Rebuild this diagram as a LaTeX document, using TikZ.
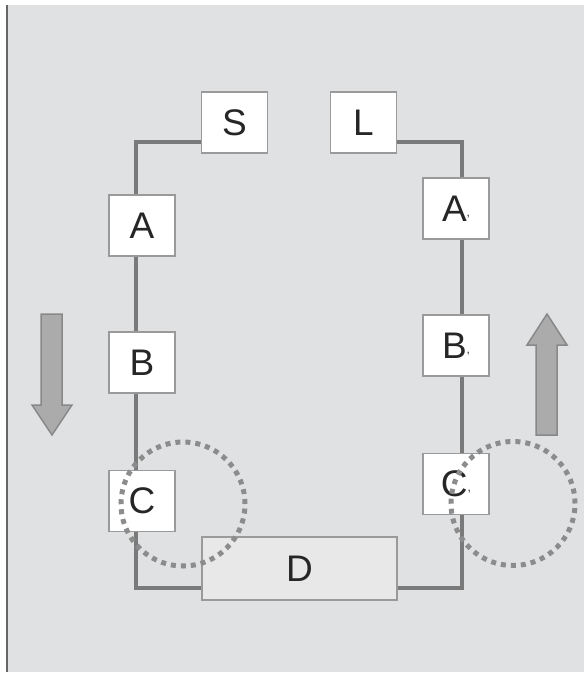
\documentclass[tikz,border=0pt]{standalone}
\usepackage{fontspec}
\setmainfont{Liberation Sans}
\definecolor{bgc}{HTML}{E0E1E3}
\definecolor{wirec}{HTML}{7A7A7A}
\definecolor{boxc}{HTML}{9A9A9A}
\definecolor{dotc}{HTML}{8C8C8C}
\definecolor{arrf}{HTML}{ABABAB}
\definecolor{arrd}{HTML}{888888}
\definecolor{dfill}{HTML}{E8E8E8}
\tikzset{
  blk/.style={draw=boxc, line width=1.6pt, fill=white, minimum width=66pt, minimum height=61pt, inner sep=0pt, font=\fontsize{37}{40}\selectfont, text=black!85},
  wire/.style={draw=wirec, line width=3.8pt},
  dotring/.style={draw=dotc, line width=5pt, dash pattern=on 5pt off 5pt},
  bigarrow/.style={fill=arrf, draw=arrd, line width=1.5pt, line join=miter},
}
\newcommand{\prm}{\raisebox{5pt}{\fontsize{12}{12}\selectfont ,}}
\begin{document}
\begin{tikzpicture}[x=1pt,y=-1pt]
\useasboundingbox (0,0) rectangle (584,674);
\fill[white] (0,0) rectangle (584,674);
\fill[bgc] (7,5) rectangle (584,672);
\draw[black!60, line width=1.6pt] (7,5) -- (7,672);

% corner coordinates of the loop
\coordinate (tl) at (136,142);
\coordinate (tr) at (462,142);
\coordinate (bl) at (136,588);
\coordinate (br) at (462,588);

% blocks
\node[blk] (s) at (234.5,122.5) {S};
\node[blk] (l) at (363.5,122.5) {L};
\node[blk] (a) at (142,225.5) {A};
\node[blk] (b) at (142,362.5) {B};
\node[blk] (c) at (142,501) {C};
\node[blk] (a2) at (456,208.5) {A\prm};
\node[blk] (b2) at (456,345.5) {B\prm};
\node[blk] (c2) at (456,484) {C\prm};
\node[blk, fill=dfill, minimum width=195pt, minimum height=63pt] (d) at (299.5,568.5) {D};

% wires
\draw[wire] (s.west |- tl) -- (tl) -- (tl |- a.north);
\draw[wire] (tl |- a.south) -- (tl |- b.north);
\draw[wire] (tl |- b.south) -- (tl |- c.north);
\draw[wire] (tl |- c.south) -- (bl) -- (d.west |- bl);
\draw[wire] (d.east |- br) -- (br) -- (br |- c2.south);
\draw[wire] (br |- c2.north) -- (br |- b2.south);
\draw[wire] (br |- b2.north) -- (br |- a2.south);
\draw[wire] (br |- a2.north) -- (tr) -- (l.east |- tr);

% dotted rings
\draw[dotring] (183,504) circle (62pt);
\draw[dotring] (513,503.5) circle (62pt);

% direction arrows
\draw[bigarrow] (41,314) -- (62,314) -- (62,405) -- (72,405) -- (52,435) -- (32,405) -- (41,405) -- cycle;
\draw[bigarrow] (536,435) -- (557,435) -- (557,345) -- (567,345) -- (547,314) -- (527,345) -- (536,345) -- cycle;
\end{tikzpicture}
\end{document}
